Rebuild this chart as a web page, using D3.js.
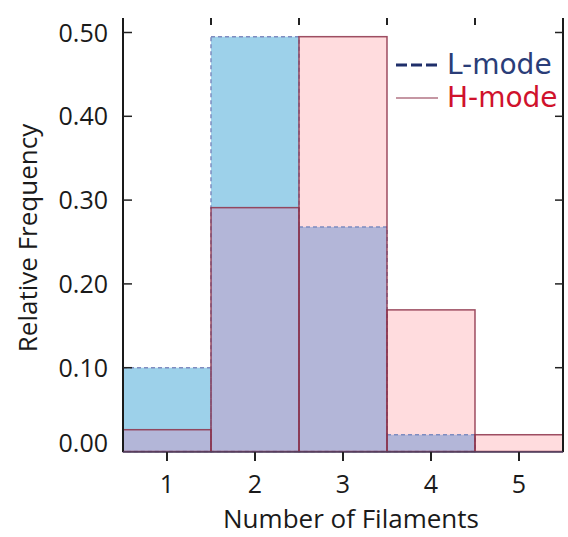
<!DOCTYPE html>
<html>
<head>
<meta charset="utf-8">
<script src="https://cdn.jsdelivr.net/npm/d3@7/dist/d3.min.js"></script>
<style>
  html, body { margin: 0; padding: 0; background: #fff; }
  svg { display: block; }
  text { font-family: "Open Sans", sans-serif; }
</style>
</head>
<body>
<svg id="chart" width="568" height="537"></svg>
<script>
// Filament-count histogram, relative frequency per bin
const bins = [1, 2, 3, 4, 5];
const lMode = [0.10, 0.495, 0.268, 0.02, 0.0];
const hMode = [0.026, 0.291, 0.495, 0.169, 0.02];
const yTicks = [0.0, 0.1, 0.2, 0.3, 0.4, 0.5];
const xTicks = [1, 2, 3, 4, 5];
const edgeTicks = [1.5, 2.5, 3.5, 4.5];
const seriesNames = ["L-mode", "H-mode"];

const plotL = 123, plotR = 563, plotT = 18, plotB = 452;

const svg = d3.select("#chart");

const x = d3.scaleLinear().domain([0.5, 5.5]).range([plotL, plotR]);
const y = d3.scaleLinear().domain([0, 0.5]).range([451.5, 32.5]);

const colL = "#9dd1ea", colH = "#ffdcde", colBoth = "#b3b6d8";
const strokeL = "#7f8cc0", strokeH = "#8c3048";

const rows = bins.map((b, i) => ({ b, l: lMode[i], h: hMode[i] }));
const bx = d => x(d.b - 0.5);
const bw = d => x(d.b + 0.5) - x(d.b - 0.5);

// fills: L-only, H-only, and the shared part
const fills = svg.append("g");
fills.selectAll(".fl").data(rows.filter(d => d.l > 0)).join("rect")
  .attr("x", bx).attr("width", bw)
  .attr("y", d => y(d.l)).attr("height", d => y(0) - y(d.l))
  .attr("fill", colL);
fills.selectAll(".fh").data(rows.filter(d => d.h > 0)).join("rect")
  .attr("x", bx).attr("width", bw)
  .attr("y", d => y(d.h)).attr("height", d => y(0) - y(d.h))
  .attr("fill", colH);
fills.selectAll(".fb").data(rows.filter(d => Math.min(d.l, d.h) > 0)).join("rect")
  .attr("x", bx).attr("width", bw)
  .attr("y", d => y(Math.min(d.l, d.h))).attr("height", d => y(0) - y(Math.min(d.l, d.h)))
  .attr("fill", colBoth);

// outlines: dashed for L-mode, solid for H-mode
const outl = svg.append("g").attr("fill", "none");
outl.selectAll(".ol").data(rows.filter(d => d.l > 0)).join("rect")
  .attr("x", bx).attr("width", bw)
  .attr("y", d => y(d.l)).attr("height", d => y(0) - y(d.l))
  .attr("stroke", strokeL).attr("stroke-width", 1.5).attr("stroke-dasharray", "4,3");
outl.selectAll(".oh").data(rows.filter(d => d.h > 0)).join("rect")
  .attr("x", bx).attr("width", bw)
  .attr("y", d => y(d.h)).attr("height", d => y(0) - y(d.h))
  .attr("stroke", strokeH).attr("stroke-opacity", 0.85).attr("stroke-width", 1.5);

// frame
const frame = svg.append("g").attr("stroke", "#1a1a1a");
frame.append("line").attr("x1", plotL).attr("x2", plotL).attr("y1", plotT).attr("y2", plotB).attr("stroke-width", 2);
frame.append("line").attr("x1", plotR).attr("x2", plotR).attr("y1", plotT).attr("y2", plotB).attr("stroke-width", 2);
frame.append("line").attr("x1", plotL).attr("x2", plotR).attr("y1", plotB).attr("y2", plotB)
  .attr("stroke", "#4a3c5c").attr("stroke-width", 1.5);

// left axis
const yAxis = svg.append("g");
yAxis.selectAll("line").data(yTicks.filter(v => v > 0)).join("line")
  .attr("x1", plotL).attr("x2", plotL + 9).attr("y1", d => y(d)).attr("y2", d => y(d))
  .attr("stroke", "#222").attr("stroke-width", 1.5);
yAxis.selectAll("text").data(yTicks).join("text")
  .attr("x", 108).attr("y", d => Math.min(y(d), 443)).attr("dy", "0.36em")
  .attr("text-anchor", "end").attr("font-size", 25).attr("fill", "#1a1a1a")
  .text(d3.format(".2f"));

// right axis ticks
svg.append("g").selectAll("line").data(yTicks.filter(v => v > 0)).join("line")
  .attr("x1", plotR - 8).attr("x2", plotR).attr("y1", d => y(d)).attr("y2", d => y(d))
  .attr("stroke", "#222").attr("stroke-width", 1.5);

// top ticks at bin edges
svg.append("g").selectAll("line").data(edgeTicks).join("line")
  .attr("x1", d => x(d)).attr("x2", d => x(d)).attr("y1", plotT).attr("y2", plotT + 7)
  .attr("stroke", "#222").attr("stroke-width", 2);

// bottom axis
const xAxis = svg.append("g");
xAxis.selectAll("line").data(xTicks).join("line")
  .attr("x1", d => x(d)).attr("x2", d => x(d)).attr("y1", plotB).attr("y2", plotB + 9)
  .attr("stroke", "#222").attr("stroke-width", 2);
xAxis.selectAll("text").data(xTicks).join("text")
  .attr("x", d => x(d)).attr("y", 493)
  .attr("text-anchor", "middle").attr("font-size", 25).attr("fill", "#1a1a1a")
  .text(d => d);

// axis titles
svg.append("text").attr("x", 351).attr("y", 528)
  .attr("text-anchor", "middle").attr("font-size", 26).attr("fill", "#1a1a1a")
  .text("Number of Filaments");
svg.append("text").attr("transform", "translate(37,238) rotate(-90)")
  .attr("text-anchor", "middle").attr("font-size", 26).attr("fill", "#1a1a1a")
  .text("Relative Frequency");

// legend
const legend = svg.append("g");
const legBase = [74, 107];
legend.append("line").attr("x1", 396).attr("x2", 438).attr("y1", legBase[0] - 9).attr("y2", legBase[0] - 9)
  .attr("stroke", "#1f2f6a").attr("stroke-width", 3).attr("stroke-dasharray", "11,4");
legend.append("line").attr("x1", 396).attr("x2", 438).attr("y1", legBase[1] - 9).attr("y2", legBase[1] - 9)
  .attr("stroke", strokeH).attr("stroke-width", 1.2);
legend.selectAll("text").data(seriesNames).join("text")
  .attr("x", 447).attr("y", (d, i) => legBase[i])
  .style("font-family", "'DejaVu Sans', sans-serif")
  .attr("font-size", 28).attr("fill", (d, i) => i === 0 ? "#2a3d78" : "#d0122c")
  .text(d => d);
</script>
</body>
</html>
